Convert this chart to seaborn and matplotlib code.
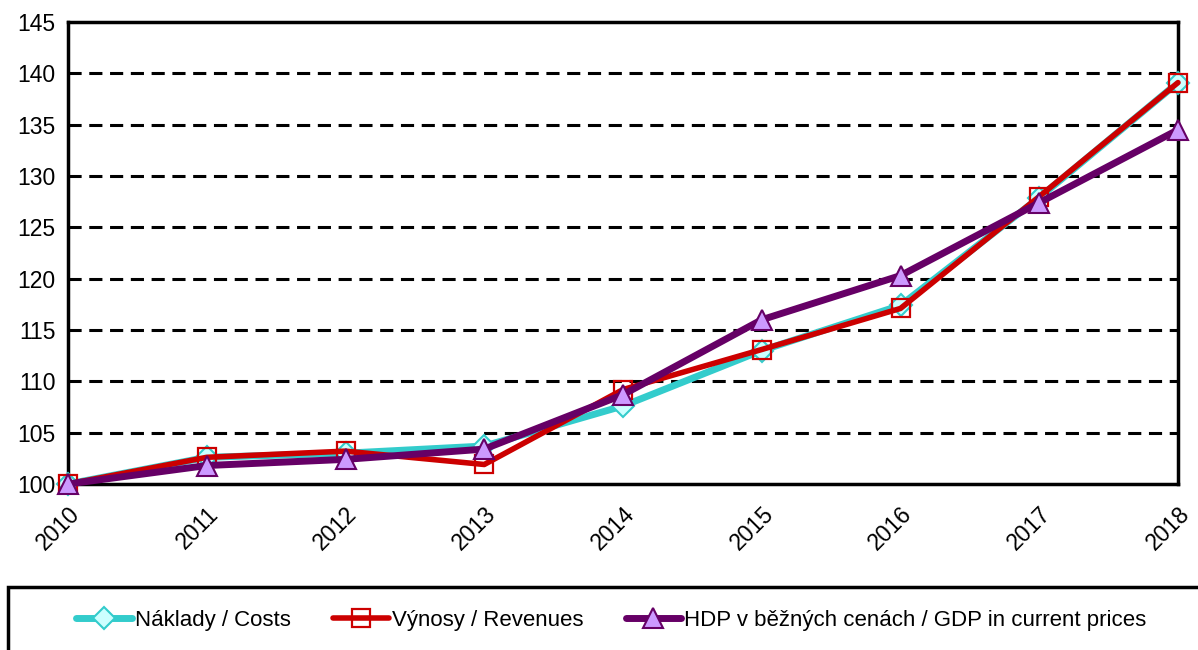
import matplotlib
matplotlib.use("Agg")
import matplotlib.pyplot as plt
import seaborn as sns
import pandas as pd
from matplotlib.patches import Rectangle

years = [2010, 2011, 2012, 2013, 2014, 2015, 2016, 2017, 2018]
costs = [100.0, 102.6, 103.0, 103.7, 107.6, 113.0, 117.4, 127.9, 139.1]
revenues = [100.0, 102.6, 103.2, 101.9, 109.2, 113.1, 117.1, 128.0, 139.1]
gdp = [100.0, 101.8, 102.4, 103.4, 108.7, 116.0, 120.3, 127.4, 134.5]
labels = ["Náklady / Costs", "Výnosy / Revenues", "HDP v běžných cenách / GDP in current prices"]
yticks = [100, 105, 110, 115, 120, 125, 130, 135, 140, 145]

sns.set_theme(style="white")
plt.rcParams['font.family'] = ['Liberation Sans', 'DejaVu Sans']

fig = plt.figure(figsize=(11.98, 6.5), dpi=100)
ax = fig.add_axes([68/1198, 1-484/650, (1178-68)/1198, (484-22)/650])

styles = [
    dict(color="#33CCCC", lw=5, marker="D", markersize=11, markerfacecolor="#CCFFFF", markeredgecolor="#33CCCC", markeredgewidth=1.5),
    dict(color="#CC0000", lw=4, marker="s", markersize=13, markerfacecolor="none", markeredgecolor="#CC0000", markeredgewidth=1.6),
    dict(color="#660066", lw=5, marker="^", markersize=14, markerfacecolor="#CC99FF", markeredgecolor="#660066", markeredgewidth=1.5),
]
series = [costs, revenues, gdp]
for vals, lab, st in zip(series, labels, styles):
    df = pd.DataFrame({"year": years, "value": vals})
    sns.lineplot(data=df, x="year", y="value", ax=ax, label=lab, zorder=3, clip_on=False, **st)
handles, hlabels = ax.get_legend_handles_labels()
ax.get_legend().remove()

ax.set_xlim(2010, 2018)
ax.set_ylim(100, 145)
ax.set_xticks(years)
ax.set_xticklabels([str(y) for y in years], rotation=45, ha="right", rotation_mode="anchor", fontsize=16.5)
ax.set_yticks(yticks)
ax.set_yticklabels([str(v) for v in yticks], fontsize=16.5)
ax.set_xlabel("")
ax.set_ylabel("")
for v in yticks[1:-1]:
    ax.axhline(v, color="black", lw=2.2, ls=(0, (4.3, 2.5)), zorder=1)
for s in ax.spines.values():
    s.set_color("black")
    s.set_linewidth(2.5)
ax.tick_params(axis="both", which="major", direction="out", length=7, width=2.5, color="black", labelcolor="black", pad=2)
ax.tick_params(axis="x", pad=6)

fig.patches.append(Rectangle((8/1198, -0.2), 1.2, 0.2 + (650-587)/650, transform=fig.transFigure,
                             fill=False, edgecolor="black", lw=2.5, clip_on=False))
leg = fig.legend(handles, hlabels, loc="center left", bbox_to_anchor=(56/1198, 0.045), ncol=3, frameon=False,
                 fontsize=16, handlelength=2.5, handletextpad=0.15, columnspacing=1.9, labelcolor="black")

fig.savefig("out.png", dpi=100)
